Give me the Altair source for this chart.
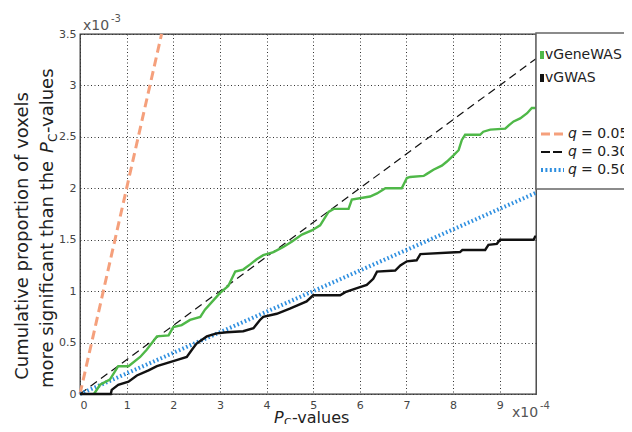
import altair as alt
import pandas as pd

# ---------------- data ----------------
x_max = 9.78          # x axis in units of 1e-4
y_max = 3.5           # y axis in units of 1e-3
x_ticks = [0, 1, 2, 3, 4, 5, 6, 7, 8, 9]
y_ticks = [0, 0.5, 1, 1.5, 2, 2.5, 3, 3.5]

series_names = ["vGeneWAS", "vGWAS"]
series_colors = ["#4fb848", "#111111"]

gene_x = [0.30, 0.43, 0.64, 0.82, 1.04, 1.29, 1.43, 1.65, 1.90, 2.00, 2.18, 2.36, 2.58,
          2.68, 2.86, 3.00, 3.18, 3.33, 3.50, 3.65, 3.79, 3.93, 4.15, 4.36, 4.54, 4.76,
          4.97, 5.15, 5.33, 5.44, 5.76, 5.83, 6.22, 6.37, 6.55, 6.90, 7.01, 7.08, 7.37,
          7.44, 7.58, 7.76, 7.87, 8.01, 8.12, 8.19, 8.26, 8.58, 8.65, 8.80, 9.12, 9.19,
          9.30, 9.44, 9.59, 9.69, 9.78]
gene_y = [0.00, 0.09, 0.14, 0.27, 0.27, 0.36, 0.43, 0.56, 0.57, 0.65, 0.67, 0.72, 0.75,
          0.82, 0.91, 0.98, 1.05, 1.19, 1.21, 1.26, 1.31, 1.35, 1.38, 1.43, 1.48, 1.55,
          1.59, 1.64, 1.77, 1.80, 1.80, 1.89, 1.92, 1.95, 2.00, 2.00, 2.10, 2.11, 2.12,
          2.14, 2.18, 2.22, 2.26, 2.32, 2.37, 2.47, 2.52, 2.52, 2.55, 2.57, 2.58, 2.61,
          2.65, 2.68, 2.73, 2.78, 2.78]

gwas_x = [0.00, 0.66, 0.68, 0.82, 1.04, 1.22, 1.47, 1.65, 1.86, 2.07, 2.29, 2.40, 2.50,
          2.72, 2.93, 3.15, 3.50, 3.72, 3.86, 3.93, 4.22, 4.50, 4.65, 4.86, 5.00, 5.58,
          5.69, 5.94, 6.15, 6.29, 6.37, 6.76, 6.87, 7.01, 7.22, 7.30, 8.15, 8.20, 8.69,
          8.76, 8.94, 9.01, 9.73, 9.76, 9.78]
gwas_y = [0.00, 0.00, 0.04, 0.09, 0.12, 0.18, 0.23, 0.27, 0.30, 0.33, 0.36, 0.43, 0.49,
          0.56, 0.59, 0.60, 0.61, 0.64, 0.72, 0.75, 0.78, 0.83, 0.86, 0.90, 0.96, 0.96,
          0.99, 1.03, 1.06, 1.12, 1.19, 1.20, 1.25, 1.29, 1.30, 1.36, 1.38, 1.40, 1.40,
          1.45, 1.46, 1.50, 1.50, 1.53, 1.53]

q_values = [0.05, 0.30, 0.50]
q_labels = ["= 0.05", "= 0.30", "= 0.50"]
q_colors = ["#f5a07c", "#111111", "#2e8fe0"]
q_dashes = [[9, 5], [8, 5], [1.6, 2.4]]
q_widths = [3, 1.2, 4]
q_sym_dashes = [[9, 4], [9, 3], [2, 2.4]]

FONT = "DejaVu Sans"

# ---------------- encodings ----------------
x_enc = alt.X("x:Q", scale=alt.Scale(domain=[0, x_max], nice=False, zero=True),
              axis=alt.Axis(values=x_ticks, format="d", grid=True, gridDash=[1, 2.5],
                            gridColor="#333", gridOpacity=1, ticks=False, domain=False,
                            labelPadding=5, labelFontSize=11, labelFont=FONT,
                            labelColor="#444", title=None))
y_enc = alt.Y("y:Q", scale=alt.Scale(domain=[0, y_max], nice=False, zero=True),
              axis=alt.Axis(values=y_ticks, format="~g", grid=True, gridDash=[1, 2.5],
                            gridColor="#333", gridOpacity=1, ticks=False, domain=False,
                            labelPadding=4, labelFontSize=11, labelFont=FONT,
                            labelColor="#444", title=None))

layers = []

# threshold lines y = x / q
for q, col, dash, w in zip(q_values, q_colors, q_dashes, q_widths):
    x_end = min(x_max, y_max * q / 0.1)
    df = pd.DataFrame({"x": [0.0, x_end], "y": [0.0, x_end * 0.1 / q]})
    layers.append(alt.Chart(df).mark_line(color=col, strokeDash=dash, strokeWidth=w)
                  .encode(x=x_enc, y=y_enc))

# series
for xs, ys, col in [(gene_x, gene_y, series_colors[0]), (gwas_x, gwas_y, series_colors[1])]:
    df = pd.DataFrame({"x": xs, "y": ys})
    layers.append(alt.Chart(df).mark_line(color=col, strokeWidth=2.4)
                  .encode(x=x_enc, y=y_enc))

one = alt.Data(values=[{}])


def txt(text, x, y, size, **kw):
    return alt.Chart(one).mark_text(text=text, font=FONT, fontSize=size, **kw).encode(
        x=alt.value(x), y=alt.value(y))


# y title (two rotated lines)
layers.append(txt("Cumulative proportion of voxels", -52, 202, 18, angle=270,
                  align="center", baseline="alphabetic", color="#222"))
layers.append(txt("more significant than the", -27, 354, 18, angle=270,
                  align="left", baseline="alphabetic", color="#222"))
layers.append(txt("P", -27, 119, 18, angle=270, align="left", baseline="alphabetic",
                  fontStyle="italic", color="#222"))
layers.append(txt("C", -23, 108, 12, angle=270, align="left", baseline="alphabetic",
                  color="#222"))
layers.append(txt("-values", -27, 99, 18, angle=270, align="left", baseline="alphabetic",
                  color="#222"))

# x title
layers.append(txt("P", 194, 389, 16, align="left", baseline="alphabetic",
                  fontStyle="italic", color="#222"))
layers.append(txt("C", 204, 392, 11, align="left", baseline="alphabetic", color="#222"))
layers.append(txt("-values", 212, 389, 16, align="left", baseline="alphabetic", color="#222"))

# exponent labels
layers.append(txt("x10", 3, -4, 14, align="left", baseline="alphabetic", color="#555"))
layers.append(txt("-3", 31, -12, 10, align="left", baseline="alphabetic", color="#555"))
layers.append(txt("x10", 432, 383, 14, align="left", baseline="alphabetic", color="#555"))
layers.append(txt("-4", 460, 375, 10, align="left", baseline="alphabetic", color="#555"))

# legend box
layers.append(alt.Chart(one).mark_rect(fill="white", stroke="#666", strokeWidth=1.5).encode(
    x=alt.value(456), x2=alt.value(620), y=alt.value(-1), y2=alt.value(155)))

# legend: series
for i, (name, col) in enumerate(zip(series_names, series_colors)):
    yc = 21 + 23 * i
    layers.append(alt.Chart(one).mark_rect(fill=col).encode(
        x=alt.value(460), x2=alt.value(464), y=alt.value(yc - 4), y2=alt.value(yc + 4)))
    layers.append(txt(name, 465, yc, 14, align="left", baseline="middle", color="#222"))

# legend: thresholds
for i, (lab, col, dash, w) in enumerate(zip(q_labels, q_colors, q_sym_dashes, q_widths)):
    yc = 100 + 18 * i
    layers.append(alt.Chart(one).mark_rule(color=col, strokeDash=dash,
                                           strokeWidth=max(w, 2)).encode(
        x=alt.value(461), x2=alt.value(484), y=alt.value(yc)))
    layers.append(txt("q", 488, yc, 14, align="left", baseline="middle",
                      fontStyle="italic", color="#222"))
    layers.append(txt(lab, 501, yc, 14, align="left", baseline="middle", color="#222"))

chart = alt.layer(*layers).properties(
    width=456, height=360,
    padding={"left": 72, "top": 26, "right": 88, "bottom": 30},
    autosize=alt.AutoSizeParams(type="none"),
    background="white",
).configure_view(stroke="#333", strokeWidth=1.3)

chart.save("out.html", embed_options={"renderer": "svg", "actions": False})
